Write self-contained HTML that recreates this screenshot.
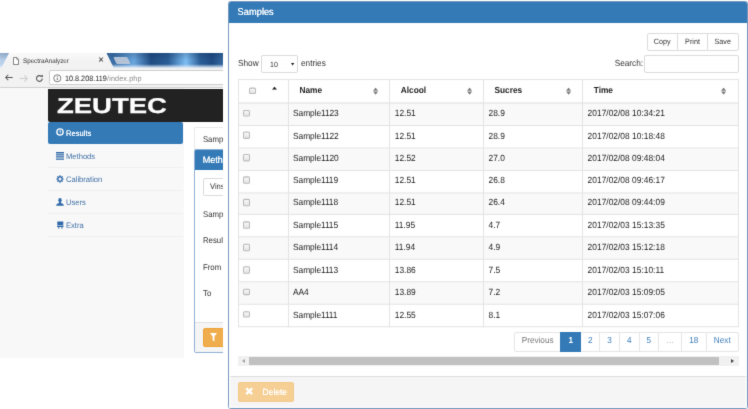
<!DOCTYPE html>
<html><head><meta charset="utf-8"><title>Samples</title>
<style>
*{box-sizing:border-box;margin:0;padding:0}
html,body{width:748px;height:409px;overflow:hidden;background:#fff}
body{filter:url(#soft)}
body{position:relative;text-rendering:geometricPrecision;font-family:"Liberation Sans",Arial,sans-serif;font-size:8px;color:#333}
.abs{position:absolute}
.t{position:absolute;white-space:nowrap;line-height:10px;transform:scaleY(1.07);transform-origin:0 55%}
.s{display:inline-block;transform:scaleY(1.07);transform-origin:0 55%}
/* ---------- left screenshot ---------- */
#shot{position:absolute;left:0;top:53px;width:222.5px;height:305px;overflow:hidden;background:#fff}
#tabbar{position:absolute;left:0;top:0;width:223px;height:15px;background:linear-gradient(180deg,rgba(10,30,70,.22) 0,rgba(10,30,70,0) 50%,rgba(255,255,255,0) 74%,rgba(215,230,246,.7) 90%,rgba(235,242,250,.95) 100%),linear-gradient(90deg,#bcd3eb 0,#b2cce8 6px,#3a6ea6 113px,#69a5dc 134px,#1f4c82 151px,#2a5c94 168px,#7cbdf3 186px,#2c5e96 200px,#1f4b82 212px,#35689f 223px)}
#tab{position:absolute;left:1px;top:-1px;width:113px;height:16.5px;background:linear-gradient(#fafafa,#f2f2f2 60%);clip-path:polygon(8.5px 0,105px 0,113px 100%,0 100%)}
#addr{position:absolute;left:0;top:15px;width:223px;height:20px;background:#f2f2f2;border-bottom:1px solid #d0d0d0}
#url{position:absolute;left:49.3px;top:2px;width:180px;height:15.4px;background:#fff;border:1px solid #cfcfcf;border-radius:2px}
#page{position:absolute;left:0;top:35px;width:183.75px;height:270px;background:#f8f8f8}
#brand{position:absolute;left:48px;top:35.5px;width:176px;height:33px;background:#222;border-radius:0 0 0 2px}
#logo{position:absolute;left:57px;top:38.8px;font-weight:bold;font-size:21.4px;line-height:28px;color:#fff;transform-origin:0 0;transform:scaleX(1.285);white-space:nowrap;-webkit-text-stroke:0.25px #fff}
.nav{position:absolute;left:48px;width:135px;height:23px;border-bottom:1px solid #efefef;color:#3f70a6;font-size:7.6px}
.nav span{position:absolute;left:18px;top:7.7px;line-height:10px;transform:scaleY(1.05);transform-origin:0 55%}
.nav svg{position:absolute;left:8px;top:7.6px;width:8px;height:8px}
#nav0{top:69px;height:21.5px;background:#337ab7;border-radius:2px;color:#fff;border:0}
#nav0 span{top:6.5px;text-shadow:0 0 0.4px #fff}
#nav0 svg{top:5.9px;left:7.6px}
/* right col of shot */
#sbox{position:absolute;left:193.6px;top:74.4px;width:40px;height:23px;border:1px solid #e9e9e9;border-radius:2px;background:#fff}
#pnl{position:absolute;left:193.6px;top:96.2px;width:40px;height:204.2px;border:1px solid #8fb0d4;border-radius:2px;background:#fff;overflow:hidden}
#pnlh{position:absolute;left:-1px;top:-1px;width:42px;height:21.3px;background:#337ab7}
#pnlf{position:absolute;left:0;top:172.1px;width:40px;height:30px;background:#f5f5f5;border-top:1px solid #e2e2e2}
#fbtn{position:absolute;left:203px;top:275.25px;width:24px;height:18.6px;background:#f0ad4e;border:1px solid #eea236;border-radius:2px}
/* ---------- modal ---------- */
#modal{position:absolute;left:228px;top:1px;width:519.5px;height:407.8px;border:1px solid #7898bc;border-radius:2.5px;background:#fff;overflow:hidden}
#modal::after{content:"";position:absolute;left:0;right:0;top:21px;bottom:0;box-shadow:inset 0 0 1.5px 1.3px rgba(255,255,255,.9);pointer-events:none}
#mh{position:absolute;left:-1px;top:-1px;width:522px;height:22px;background:#337ab7}
#mf{position:absolute;left:0;top:374.2px;width:100%;height:34px;background:#f5f5f5;border-top:1px solid #ddd}
.btn{position:absolute;border:1px solid #dcdcdc;background:#fff;color:#333;text-align:center;font-size:7.2px;line-height:16px;height:17.5px}
.inp{position:absolute;border:1px solid #dadada;background:#fff;border-radius:2px;height:17.5px}
table{position:absolute;left:237.5px;top:79.03px;width:501px;transform-origin:0 0;transform:scaleY(1.070);border-collapse:collapse;table-layout:fixed;font-size:8.4px;color:#222;letter-spacing:-0.02px}
td,th{border:1px solid #e4e4e4;height:20.916px;line-height:9.5px;padding:0 0 0.8px 4.8px;text-align:left;vertical-align:middle;position:relative;white-space:nowrap;overflow:hidden}
th{font-weight:bold;padding-left:10.8px;height:21.916px;border-bottom:1.5px solid #ddd;font-size:8.3px}
tbody tr:nth-child(odd){background:#f9f9f9}
td:nth-child(5){padding-left:4.6px;letter-spacing:0.02px}
.cb{display:block;width:6.6px;height:6.6px;border:1px solid #b9b9b9;border-radius:1.5px;background:linear-gradient(#f8f8f8,#e4e4e4);margin-left:-0.2px;position:relative;top:-0.6px}
td:nth-child(2){letter-spacing:-0.08px;padding-left:4.3px}
.so{position:absolute;right:10.9px;top:7.3px;width:5.2px;height:6.7px}
.pg{position:absolute;top:331.5px;height:20px;border:1px solid #e6e6e6;background:#fff;color:#3d7db8;font-size:8.2px;line-height:15.8px;text-align:center}
</style></head><body>
<svg width="0" height="0" style="position:absolute"><filter id="soft" x="0" y="0" width="100%" height="100%" color-interpolation-filters="sRGB"><feConvolveMatrix order="3" kernelMatrix="0.011 0.084 0.011 0.084 0.62 0.084 0.011 0.084 0.011" edgeMode="duplicate" preserveAlpha="true"/></filter></svg>

<!-- left screenshot -->
<div id="shot">
  <div id="tabbar"><div id="tab"></div>
    <div class="abs" style="left:114.5px;top:3.9px;width:13.5px;height:7.2px;background:#bcc8d8;transform:skewX(26deg);border-radius:1px;opacity:.92"></div>
  </div>
  <svg class="abs" style="left:12.5px;top:3.5px" width="6" height="8" viewBox="0 0 6 8"><path d="M0.5 0.5h3.2l1.8 1.8v5.2h-5z" fill="#fff" stroke="#555" stroke-width="0.7"/><path d="M3.7 0.5v1.8h1.8" fill="none" stroke="#555" stroke-width="0.6"/></svg>
  <div class="t" style="left:23px;top:3.8px;font-size:6.25px;color:#333">SpectraAnalyzer</div>
  <div class="t" style="left:98.3px;top:3.4px;font-size:9.6px;color:#222">×</div>
  <div id="addr">
    <svg class="abs" style="left:5.3px;top:6.3px" width="8.2" height="7" viewBox="0 0 9 7"><path d="M3.6 0.5L0.8 3.5l2.8 3M0.8 3.5H8.5" fill="none" stroke="#555" stroke-width="1.1"/></svg>
    <svg class="abs" style="left:19px;top:6.5px" width="9" height="7" viewBox="0 0 9 7"><path d="M5.4 0.5L8.2 3.5l-2.8 3M8.2 3.5H0.5" fill="none" stroke="#cfcfcf" stroke-width="1.1"/></svg>
    <svg class="abs" style="left:35px;top:5.5px" width="9" height="9" viewBox="0 0 9 9"><path d="M7.3 4.5a2.9 2.9 0 1 1-0.9-2.1" fill="none" stroke="#555" stroke-width="1.1"/><path d="M5.2 2.9h2.7V0.4z" fill="#555"/></svg>
    <div id="url">
      <svg class="abs" style="left:2.8px;top:3px" width="8.6" height="8.6" viewBox="0 0 8 8"><circle cx="4" cy="4" r="3.3" fill="none" stroke="#666" stroke-width="0.8"/><path d="M4 3.5v2.3M4 2.1v0.8" stroke="#666" stroke-width="0.9"/></svg>
      <div class="t" style="left:14.7px;top:2.9px;font-size:7.25px;color:#222">10.8.208.119<span style="color:#8a8a8a;letter-spacing:0.1px;margin-left:0.3px">/index.php</span></div>
    </div>
  </div>
  <div id="page"></div>
  <div id="brand"></div>
  <div id="logo">ZEUTEC</div>
  <div class="nav" id="nav0"><svg viewBox="0 0 8 8"><circle cx="4" cy="4" r="3.15" fill="none" stroke="#fff" stroke-width="1.35"/><path d="M4 2.2v2h1" fill="none" stroke="#fff" stroke-width="0.9"/></svg><span>Results</span></div>
  <div class="nav" style="top:91.5px"><svg viewBox="0 0 8 8"><path d="M0 0.1h8v1.3h-8zM0 2.2h8v1.3h-8zM0 4.3h8v1.3h-8zM0 6.4h8v1.3h-8z" fill="#2f68a8"/></svg><span>Methods</span></div>
  <div class="nav" style="top:114.5px"><svg viewBox="0 0 8 8"><path d="M4 0.3v7.4M0.3 4h7.4M1.4 1.4l5.2 5.2M6.6 1.4L1.4 6.6" stroke="#2f68a8" stroke-width="1.2"/><circle cx="4" cy="4" r="2.7" fill="#2f68a8"/><circle cx="4" cy="4" r="1.5" fill="#f8f8f8"/></svg><span>Calibration</span></div>
  <div class="nav" style="top:137.5px"><svg viewBox="0 0 8 8"><ellipse cx="4" cy="2.2" rx="1.7" ry="2.1" fill="#2f68a8"/><path d="M3.1 3.8h1.8v1.2c2 .5 2.9 1 2.9 2.8h-7.6c0-1.8.9-2.3 2.9-2.8z" fill="#2f68a8"/></svg><span>Users</span></div>
  <div class="nav" style="top:160.5px"><svg viewBox="0 0 8 8"><path d="M1.3 0.6h6v3.9h-6zM1 5h6.6v1h-6.6zM2 6.2h1.3v1.3h-1.3zM5.3 6.2h1.3v1.3h-1.3z" fill="#2f68a8"/></svg><span>Extra</span></div>
  <div id="sbox"><div class="t" style="left:8.3px;top:6.2px;font-size:7.8px">Samp</div></div>
  <div id="pnl"><div id="pnlh"><div class="t" style="left:9.2px;top:5.5px;font-size:9px;color:#fff;text-shadow:0 0 0.4px #fff">Meth</div></div>
    <div class="inp" style="left:8.4px;top:27.8px;width:40px;height:18.5px"><div class="t" style="left:6px;top:3.5px;font-size:7.6px">Vins</div></div>
    <div class="t" style="left:8.4px;top:59.7px;font-size:7.8px">Samp</div>
    <div class="t" style="left:8.4px;top:86.3px;font-size:7.8px">Resul</div>
    <div class="t" style="left:8.4px;top:112.9px;font-size:7.8px">From</div>
    <div class="t" style="left:8.4px;top:139.2px;font-size:7.8px">To</div>
    <div id="pnlf"></div>
  </div>
  <div id="fbtn"><svg class="abs" style="left:6px;top:3.5px" width="7" height="9" viewBox="0 0 7 9"><path d="M0 0h7L4.4 3.6v5L2.6 7.2V3.6z" fill="#fff"/></svg></div>
</div>

<!-- modal -->
<div id="modal">
  <div id="mh"><div class="t" style="left:9.6px;top:5.7px;font-size:9.3px;color:#fff;text-shadow:0 0 0.5px #fff">Samples</div></div>
  <div id="mf"></div>
</div>
<div class="abs" style="left:238px;top:382px;width:56px;height:19.5px;background:#f6cf95;border:1px solid #f4c88a;border-radius:2px"></div>
<svg class="abs" style="left:245px;top:387.2px" width="8.4" height="8.4" viewBox="0 0 8 8"><path d="M1.2 1.2L6.8 6.8M6.8 1.2L1.2 6.8" stroke="#fff" stroke-width="2.3" fill="none"/></svg>
<div class="t" style="left:262.6px;top:386.8px;font-size:8.45px;color:#fff;text-shadow:0 0 0.4px #fff">Delete</div>

<div class="btn" style="left:646.5px;top:33px;width:31.5px;border-radius:2px 0 0 2px"><span class="s">Copy</span></div>
<div class="btn" style="left:677px;top:33px;width:31px"><span class="s">Print</span></div>
<div class="btn" style="left:707px;top:33px;width:31.5px;border-radius:0 2px 2px 0"><span class="s">Save</span></div>

<div class="t" style="left:238px;top:58.5px;font-size:8.25px">Show</div>
<div class="inp" style="left:261px;top:55.2px;width:36.9px;height:17.4px"><div class="t" style="left:8px;top:4.4px;font-size:7px">10</div><svg class="abs" style="left:28.6px;top:6.9px" width="3.2" height="2.5" viewBox="0 0 4 3"><path d="M0 0h4L2 3z" fill="#222"/></svg></div>
<div class="t" style="left:301px;top:58.5px;font-size:8.25px">entries</div>
<div class="t" style="left:614.7px;top:58.5px;font-size:8.25px">Search:</div>
<div class="inp" style="left:644px;top:55px;width:94.5px;height:17.6px"></div>

<table>
<colgroup><col style="width:50.25px"><col style="width:101.25px"><col style="width:93.75px"><col style="width:99.25px"><col></colgroup>
<thead><tr>
<th><span class="cb" style="margin-left:0.2px;top:0.3px;width:6.3px;height:6.2px"></span><svg class="abs" style="left:33.6px;top:6.4px" width="5" height="3.1" viewBox="0 0 5.4 3.2"><path d="M0 3.2h5.4L2.7 0z" fill="#222"/></svg></th>
<th>Name<svg class="so" viewBox="0 0 5 6.6"><path d="M2.5 0L5 3H0zM2.5 6.6L5 3.6H0z" fill="#7d7d7d"/></svg></th>
<th>Alcool<svg class="so" viewBox="0 0 5 6.6"><path d="M2.5 0L5 3H0zM2.5 6.6L5 3.6H0z" fill="#7d7d7d"/></svg></th>
<th>Sucres<svg class="so" viewBox="0 0 5 6.6"><path d="M2.5 0L5 3H0zM2.5 6.6L5 3.6H0z" fill="#7d7d7d"/></svg></th>
<th>Time<svg class="so" viewBox="0 0 5 6.6"><path d="M2.5 0L5 3H0zM2.5 6.6L5 3.6H0z" fill="#7d7d7d"/></svg></th>
</tr></thead>
<tbody>
<tr><td><span class="cb"></span></td><td>Sample1123</td><td>12.51</td><td>28.9</td><td>2017/02/08 10:34:21</td></tr>
<tr><td><span class="cb"></span></td><td>Sample1122</td><td>12.51</td><td>28.9</td><td>2017/02/08 10:18:48</td></tr>
<tr><td><span class="cb"></span></td><td>Sample1120</td><td>12.52</td><td>27.0</td><td>2017/02/08 09:48:04</td></tr>
<tr><td><span class="cb"></span></td><td>Sample1119</td><td>12.51</td><td>26.8</td><td>2017/02/08 09:46:17</td></tr>
<tr><td><span class="cb"></span></td><td>Sample1118</td><td>12.51</td><td>26.4</td><td>2017/02/08 09:44:09</td></tr>
<tr><td><span class="cb"></span></td><td>Sample1115</td><td>11.95</td><td>4.7</td><td>2017/02/03 15:13:35</td></tr>
<tr><td><span class="cb"></span></td><td>Sample1114</td><td>11.94</td><td>4.9</td><td>2017/02/03 15:12:18</td></tr>
<tr><td><span class="cb"></span></td><td>Sample1113</td><td>13.86</td><td>7.5</td><td>2017/02/03 15:10:11</td></tr>
<tr><td><span class="cb"></span></td><td>AA4</td><td>13.89</td><td>7.2</td><td>2017/02/03 15:09:05</td></tr>
<tr><td><span class="cb"></span></td><td>Sample1111</td><td>12.55</td><td>8.1</td><td>2017/02/03 15:07:06</td></tr>
</tbody></table>

<div class="pg" style="left:514.0px;width:47.25px;color:#777;border-radius:2px 0 0 2px"><span class="s">Previous</span></div>
<div class="pg" style="left:560.25px;width:21.0px;background:#337ab7;border-color:#337ab7;color:#fff;font-weight:bold;z-index:2"><span class="s">1</span></div>
<div class="pg" style="left:580.25px;width:20.0px"><span class="s">2</span></div>
<div class="pg" style="left:599.25px;width:20.5px"><span class="s">3</span></div>
<div class="pg" style="left:618.75px;width:21.0px"><span class="s">4</span></div>
<div class="pg" style="left:638.75px;width:20.25px"><span class="s">5</span></div>
<div class="pg" style="left:658.0px;width:24.25px;color:#aaa"><span class="s">…</span></div>
<div class="pg" style="left:681.25px;width:25.25px"><span class="s">18</span></div>
<div class="pg" style="left:705.5px;width:33.5px;border-radius:0 2px 2px 0"><span class="s">Next</span></div>

<div class="abs" style="left:238px;top:356px;width:500.5px;height:10px;background:#f1f1f1"></div>
<div class="abs" style="left:249px;top:357px;width:470px;height:8px;background:#c1c1c1"></div>
<div class="abs" style="left:241.5px;top:358.5px;border:2.5px solid transparent;border-right:3px solid #a3a3a3;border-left:0"></div>
<div class="abs" style="left:731px;top:358.5px;border:2.5px solid transparent;border-left:3px solid #444;border-right:0"></div>
</body></html>
